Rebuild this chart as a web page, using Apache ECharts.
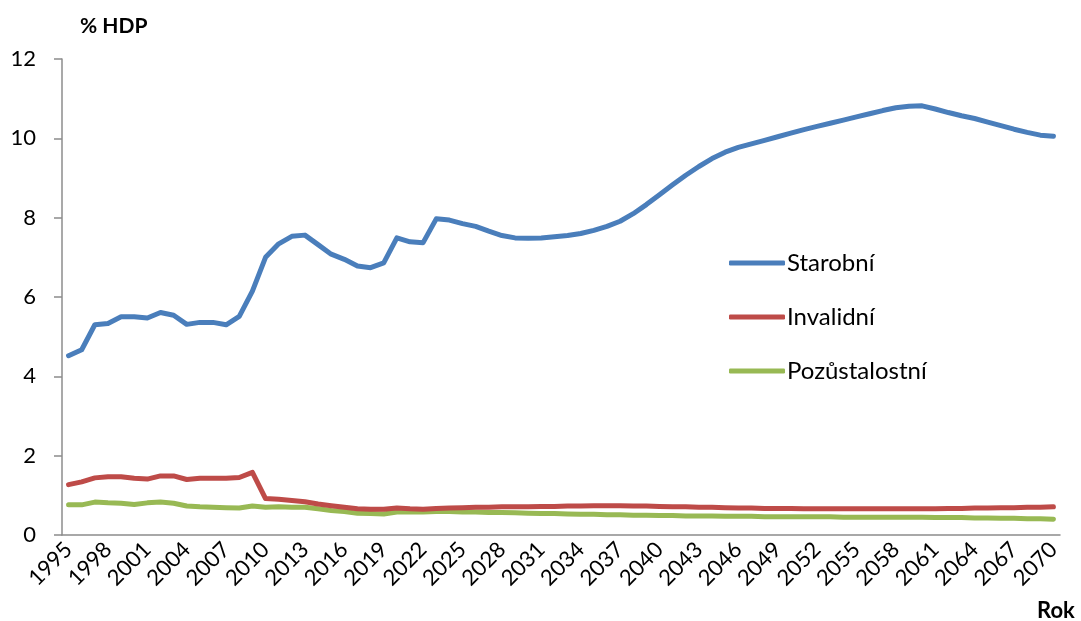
<!DOCTYPE html>
<html>
<head>
<meta charset="utf-8">
<script src="https://cdn.jsdelivr.net/npm/echarts@6/dist/echarts.min.js"></script>
<style>
  html, body { margin: 0; padding: 0; background: #fff; }
  #chart { width: 1081px; height: 621px; }
</style>
</head>
<body>
<div id="chart"></div>
<script>
// Years 1995–2070
const years = [];
for (let y = 1995; y <= 2070; y++) years.push(String(y));

// Pension expenditure, % of GDP
const starobni = [
  4.52, 4.67, 5.30, 5.33, 5.50, 5.50, 5.47, 5.61, 5.54, 5.31,
  5.36, 5.36, 5.30, 5.51, 6.15, 7.00, 7.34, 7.53, 7.56, 7.32,
  7.08, 6.95, 6.78, 6.74, 6.86, 7.49, 7.39, 7.37, 7.97, 7.94,
  7.85, 7.78, 7.66, 7.55, 7.49, 7.48, 7.49, 7.52, 7.55, 7.60,
  7.68, 7.78, 7.91, 8.10, 8.33, 8.58, 8.83, 9.07, 9.29, 9.49,
  9.65, 9.77, 9.86, 9.95, 10.04, 10.13, 10.22, 10.30, 10.38, 10.46,
  10.54, 10.62, 10.70, 10.77, 10.81, 10.82, 10.74, 10.65, 10.57, 10.50,
  10.41, 10.32, 10.23, 10.15, 10.08, 10.05
];
const invalidni = [
  1.27, 1.34, 1.44, 1.47, 1.47, 1.43, 1.41, 1.49, 1.49, 1.40,
  1.43, 1.43, 1.43, 1.45, 1.58, 0.92, 0.90, 0.87, 0.84, 0.78,
  0.74, 0.70, 0.66, 0.65, 0.65, 0.68, 0.66, 0.65, 0.67, 0.68,
  0.69, 0.70, 0.70, 0.71, 0.71, 0.71, 0.72, 0.72, 0.73, 0.73,
  0.74, 0.74, 0.74, 0.73, 0.73, 0.72, 0.71, 0.71, 0.70, 0.70,
  0.69, 0.68, 0.68, 0.67, 0.67, 0.67, 0.66, 0.66, 0.66, 0.66,
  0.66, 0.66, 0.66, 0.66, 0.66, 0.66, 0.66, 0.67, 0.67, 0.68,
  0.68, 0.69, 0.69, 0.70, 0.70, 0.71
];
const pozustalostni = [
  0.76, 0.76, 0.83, 0.81, 0.80, 0.77, 0.81, 0.83, 0.80, 0.73,
  0.71, 0.70, 0.69, 0.68, 0.73, 0.70, 0.71, 0.70, 0.70, 0.66,
  0.62, 0.59, 0.55, 0.54, 0.53, 0.58, 0.58, 0.58, 0.59, 0.59,
  0.58, 0.58, 0.57, 0.57, 0.56, 0.55, 0.54, 0.54, 0.53, 0.52,
  0.52, 0.51, 0.51, 0.50, 0.50, 0.49, 0.49, 0.48, 0.48, 0.48,
  0.47, 0.47, 0.47, 0.46, 0.46, 0.46, 0.46, 0.46, 0.46, 0.45,
  0.45, 0.45, 0.45, 0.45, 0.45, 0.45, 0.44, 0.44, 0.44, 0.43,
  0.43, 0.42, 0.42, 0.41, 0.41, 0.40
];

const seriesNames = ['Starobní', 'Invalidní', 'Pozůstalostní'];
const seriesColors = ['#4A7EBB', '#BE4B48', '#98B954'];
const seriesData = [starobni, invalidni, pozustalostni];

const FONT = 'Lato';
const AXIS_COLOR = '#8C8C8C';

const chart = echarts.init(document.getElementById('chart'), null, { renderer: 'canvas' });

chart.setOption({
  animation: false,
  backgroundColor: '#ffffff',
  textStyle: { fontFamily: FONT, color: '#000' },
  grid: { left: 62, right: 21, top: 59, bottom: 86, containLabel: false },
  legend: {
    orient: 'vertical',
    left: 724,
    top: 246,
    itemWidth: 56,
    itemHeight: 5,
    itemGap: 30,
    icon: 'roundRect',
    textStyle: { fontFamily: FONT, fontSize: 24, lineHeight: 24, color: '#000', padding: [0, 0, 0, -3] },
    data: seriesNames
  },
  xAxis: {
    type: 'category',
    data: years,
    boundaryGap: true,
    axisLine: { lineStyle: { color: AXIS_COLOR, width: 1.5 } },
    axisTick: { interval: 2, length: 7, lineStyle: { color: AXIS_COLOR, width: 1.5 } },
    axisLabel: {
      interval: 2,
      rotate: 45,
      margin: 11,
      fontFamily: FONT,
      fontSize: 22,
      color: '#000'
    },
    splitLine: { show: false }
  },
  yAxis: {
    type: 'value',
    min: 0,
    max: 12,
    interval: 2,
    axisLine: { show: true, lineStyle: { color: AXIS_COLOR, width: 1.5 } },
    axisTick: { show: true, length: 8, lineStyle: { color: AXIS_COLOR, width: 1.5 } },
    axisLabel: { margin: 26, fontFamily: FONT, fontSize: 22, color: '#000' },
    splitLine: { show: false }
  },
  graphic: [
    {
      type: 'text',
      left: 80,
      top: 16,
      style: { text: '% HDP', font: 'bold 21px ' + FONT, fill: '#000' }
    },
    {
      type: 'text',
      left: 1037,
      top: 600,
      style: { text: 'Rok', font: 'bold 22px ' + FONT, fill: '#000' }
    }
  ],
  series: seriesNames.map((name, i) => ({
    name: name,
    type: 'line',
    data: seriesData[i],
    color: seriesColors[i],
    showSymbol: false,
    symbol: 'none',
    smooth: false,
    lineStyle: { width: 5, color: seriesColors[i], cap: 'round', join: 'round' },
    z: 3 - i
  }))
});
</script>
</body>
</html>
